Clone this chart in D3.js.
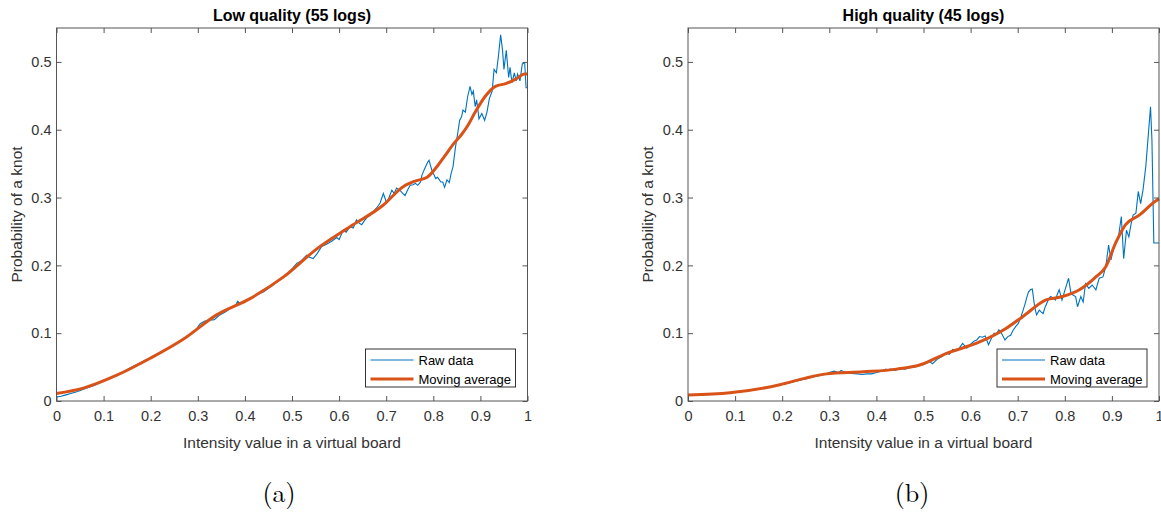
<!DOCTYPE html>
<html>
<head>
<meta charset="utf-8">
<script src="https://cdnjs.cloudflare.com/ajax/libs/d3/7.8.5/d3.min.js"></script>
<style>
    body { margin: 0; background: #fff; }
    svg { display: block; }
</style>
</head>
<body>
<svg></svg>
<script>
// values
var lowRaw = [[0,.006],[.01,.007],[.02,.009],[.03,.011],[.045,.014],[.06,.018],[.08,.023],[.1,.029],[.12,.035],[.14,.042],[.16,.050],[.18,.057],[.2,.064],[.22,.071],[.24,.079],[.26,.087],[.28,.096],[.295,.104],[.305,.114],[.315,.118],[.325,.119],[.335,.120],[.345,.126],[.36,.132],[.37,.137],[.38,.141],[.385,.147],[.39,.143],[.40,.148],[.41,.150],[.42,.155],[.43,.158],[.44,.161],[.45,.166],[.46,.171],[.47,.177],[.48,.181],[.49,.187],[.50,.195],[.51,.203],[.52,.207],[.531,.215],[.537,.212],[.545,.210],[.553,.217],[.563,.228],[.57,.230],[.578,.233],[.585,.236],[.595,.241],[.600,.238],[.609,.252],[.615,.249],[.623,.257],[.63,.255],[.637,.267],[.643,.262],[.648,.260],[.655,.267],[.660,.271],[.666,.274],[.672,.279],[.68,.285],[.687,.292],[.694,.306],[.701,.292],[.706,.300],[.712,.311],[.717,.306],[.722,.314],[.729,.311],[.735,.306],[.740,.303],[.746,.312],[.751,.318],[.757,.319],[.762,.321],[.767,.318],[.773,.323],[.776,.333],[.780,.340],[.784,.346],[.788,.352],[.791,.355],[.795,.345],[.798,.338],[.802,.333],[.805,.328],[.809,.330],[.813,.326],[.816,.323],[.820,.323],[.824,.315],[.829,.326],[.834,.322],[.838,.336],[.842,.346],[.847,.374],[.851,.391],[.856,.414],[.860,.419],[.863,.429],[.868,.426],[.873,.449],[.878,.464],[.882,.452],[.885,.457],[.889,.434],[.892,.444],[.897,.416],[.903,.424],[.909,.414],[.914,.426],[.919,.446],[.925,.457],[.929,.489],[.934,.484],[.938,.507],[.943,.540],[.947,.517],[.950,.489],[.955,.517],[.960,.477],[.963,.492],[.967,.469],[.972,.484],[.976,.472],[.979,.482],[.984,.472],[.989,.497],[.994,.499],[.997,.462],[1,.462]];

var lowAvg = [[0,.011],[.057,.019],[.128,.038],[.199,.063],[.269,.091],[.340,.127],[.411,.151],[.482,.183],[.552,.224],[.623,.257],[.694,.289],[.736,.316],[.760,.324],[.787,.330],[.807,.345],[.824,.361],[.845,.381],[.860,.393],[.874,.407],[.889,.426],[.910,.449],[.932,.464],[.954,.468],[.976,.475],[.994,.482],[1,.482]];

var highRaw = [[0,.008],[.03,.009],[.06,.010],[.09,.012],[.12,.015],[.15,.018],[.18,.022],[.21,.026],[.24,.031],[.27,.036],[.29,.039],[.30,.042],[.31,.044],[.32,.042],[.325,.045],[.33,.043],[.34,.041],[.36,.040],[.37,.039],[.38,.040],[.39,.040],[.40,.042],[.41,.044],[.42,.047],[.425,.045],[.43,.047],[.44,.045],[.45,.048],[.46,.047],[.47,.049],[.48,.050],[.49,.052],[.50,.054],[.513,.058],[.519,.055],[.53,.062],[.54,.066],[.548,.071],[.555,.069],[.562,.076],[.569,.074],[.576,.078],[.583,.085],[.592,.078],[.60,.084],[.607,.088],[.613,.090],[.619,.095],[.625,.094],[.631,.096],[.638,.083],[.644,.092],[.650,.100],[.655,.099],[.660,.105],[.667,.098],[.673,.090],[.679,.095],[.685,.097],[.690,.104],[.696,.110],[.701,.114],[.706,.122],[.711,.133],[.716,.144],[.719,.152],[.723,.161],[.727,.164],[.731,.165],[.736,.139],[.740,.127],[.746,.134],[.750,.131],[.754,.129],[.758,.138],[.763,.146],[.766,.151],[.770,.154],[.775,.152],[.780,.149],[.784,.157],[.788,.164],[.794,.149],[.801,.165],[.808,.181],[.813,.159],[.818,.156],[.823,.154],[.827,.139],[.834,.154],[.839,.146],[.844,.173],[.851,.166],[.858,.171],[.866,.164],[.873,.181],[.881,.183],[.887,.198],[.893,.230],[.898,.208],[.905,.230],[.914,.242],[.920,.272],[.925,.210],[.931,.252],[.936,.242],[.941,.262],[.945,.274],[.951,.277],[.956,.309],[.961,.291],[.966,.311],[.972,.346],[.977,.390],[.982,.434],[.985,.385],[.989,.233],[.994,.233],[1,.233]];

var highAvg = [[0,.0088],[.089,.012],[.195,.024],[.245,.033],[.294,.040],[.372,.043],[.443,.047],[.492,.053],[.548,.070],[.619,.087],[.675,.107],[.710,.124],[.760,.149],[.795,.154],[.831,.164],[.866,.183],[.887,.198],[.908,.233],[.929,.260],[.958,.274],[.993,.295],[1,.298]];

var xTicks = [0, 0.1, 0.2, 0.3, 0.4, 0.5, 0.6, 0.7, 0.8, 0.9, 1];
var xTickLabels = ["0", "0.1", "0.2", "0.3", "0.4", "0.5", "0.6", "0.7", "0.8", "0.9", "1"];
var yTicks = [0, 0.1, 0.2, 0.3, 0.4, 0.5];
var yTickLabels = ["0", "0.1", "0.2", "0.3", "0.4", "0.5"];
var seriesNames = ["Raw data", "Moving average"];

var screen = {width: 1161, height: 513};
var blue = "#0072BD";
var orange = "#D95319";
var font = "'Liberation Sans', Arial, Helvetica, sans-serif";

var svg = d3.select("svg")
    .attr("width", screen.width)
    .attr("height", screen.height);

var drawPanel = function(opts)
{
    var left = opts.left, top = 28, width = 471, height = 373;

    var xScale = d3.scaleLinear().domain([0, 1]).range([0, width]);
    var yScale = d3.scaleLinear().domain([0, 0.55]).range([height, 0]);

    var g = svg.append("g")
        .attr("transform", "translate(" + left + "," + top + ")");

    var line = d3.line()
        .x(function(d){return xScale(d[0])})
        .y(function(d){return yScale(d[1])});

    var smooth = d3.line()
        .x(function(d){return xScale(d[0])})
        .y(function(d){return yScale(d[1])})
        .curve(d3.curveMonotoneX);

    g.append("path")
        .datum(opts.raw)
        .attr("fill", "none")
        .attr("stroke", blue)
        .attr("stroke-width", 1.1)
        .attr("d", line);

    g.append("path")
        .datum(opts.avg)
        .attr("fill", "none")
        .attr("stroke", orange)
        .attr("stroke-width", 3)
        .attr("d", smooth);

    // axes, ticks pointing inward on all four sides
    var xFmt = function(d, i){return xTickLabels[i]};
    var yFmt = function(d, i){return yTickLabels[i]};

    var axes = [
        {axis: d3.axisBottom(xScale).tickValues(xTicks).tickFormat(xFmt).tickSize(-5).tickPadding(10), at: [0, height]},
        {axis: d3.axisTop(xScale).tickValues(xTicks).tickFormat("").tickSize(-5), at: [0, 0]},
        {axis: d3.axisLeft(yScale).tickValues(yTicks).tickFormat(yFmt).tickSize(-5).tickPadding(5), at: [0, 0]},
        {axis: d3.axisRight(yScale).tickValues(yTicks).tickFormat("").tickSize(-5), at: [width, 0]}
    ];

    axes.forEach(function(a)
    {
        var ax = g.append("g")
            .attr("transform", "translate(" + a.at[0] + "," + a.at[1] + ")")
            .call(a.axis);
        ax.select(".domain").remove();
        ax.selectAll("line").attr("stroke", "#555");
        ax.selectAll("text")
            .attr("fill", "#333")
            .style("font-family", font)
            .style("font-size", "14.5px");
    });

    g.append("rect")
        .attr("width", width)
        .attr("height", height)
        .attr("fill", "none")
        .attr("stroke", "#555")
        .attr("stroke-width", 1);

    g.append("text")
        .attr("x", width / 2)
        .attr("y", -7)
        .attr("text-anchor", "middle")
        .style("font-family", font)
        .style("font-size", "16px")
        .style("font-weight", "bold")
        .attr("fill", "#000")
        .text(opts.title);

    g.append("text")
        .attr("x", width / 2)
        .attr("y", height + 47)
        .attr("text-anchor", "middle")
        .style("font-family", font)
        .style("font-size", "15.5px")
        .attr("fill", "#333")
        .text("Intensity value in a virtual board");

    g.append("text")
        .attr("transform", "translate(-35," + (height / 2) + ") rotate(-90)")
        .attr("text-anchor", "middle")
        .style("font-family", font)
        .style("font-size", "15.5px")
        .attr("fill", "#333")
        .text("Probability of a knot");

    // legend
    var legend = g.append("g")
        .attr("transform", "translate(" + (width - 162) + "," + (height - 52) + ")");

    legend.append("rect")
        .attr("width", 150)
        .attr("height", 38)
        .attr("fill", "#fff")
        .attr("stroke", "#333")
        .attr("stroke-width", 1);

    var rows = legend.selectAll(".row")
        .data(seriesNames)
        .enter()
        .append("g")
        .attr("transform", function(d, i){return "translate(0," + (11 + i * 19) + ")"});

    rows.append("line")
        .attr("x1", 5)
        .attr("x2", 48)
        .attr("stroke", function(d, i){return i == 0 ? blue : orange})
        .attr("stroke-width", function(d, i){return i == 0 ? 1.1 : 3});

    rows.append("text")
        .attr("x", 53)
        .attr("dy", "0.35em")
        .style("font-family", font)
        .style("font-size", "13px")
        .attr("fill", "#000")
        .text(function(d){return d});

    svg.append("text")
        .attr("x", opts.captionX)
        .attr("y", 502)
        .attr("text-anchor", "middle")
        .style("font-family", "'Latin Modern Roman', 'Liberation Serif', 'DejaVu Serif', serif")
        .style("font-size", "26px")
        .attr("fill", "#000")
        .text(opts.caption);
}

drawPanel({left: 56.5, raw: lowRaw, avg: lowAvg, title: "Low quality (55 logs)", caption: "(a)", captionX: 279});
drawPanel({left: 688, raw: highRaw, avg: highAvg, title: "High quality (45 logs)", caption: "(b)", captionX: 912});
</script>
</body>
</html>
